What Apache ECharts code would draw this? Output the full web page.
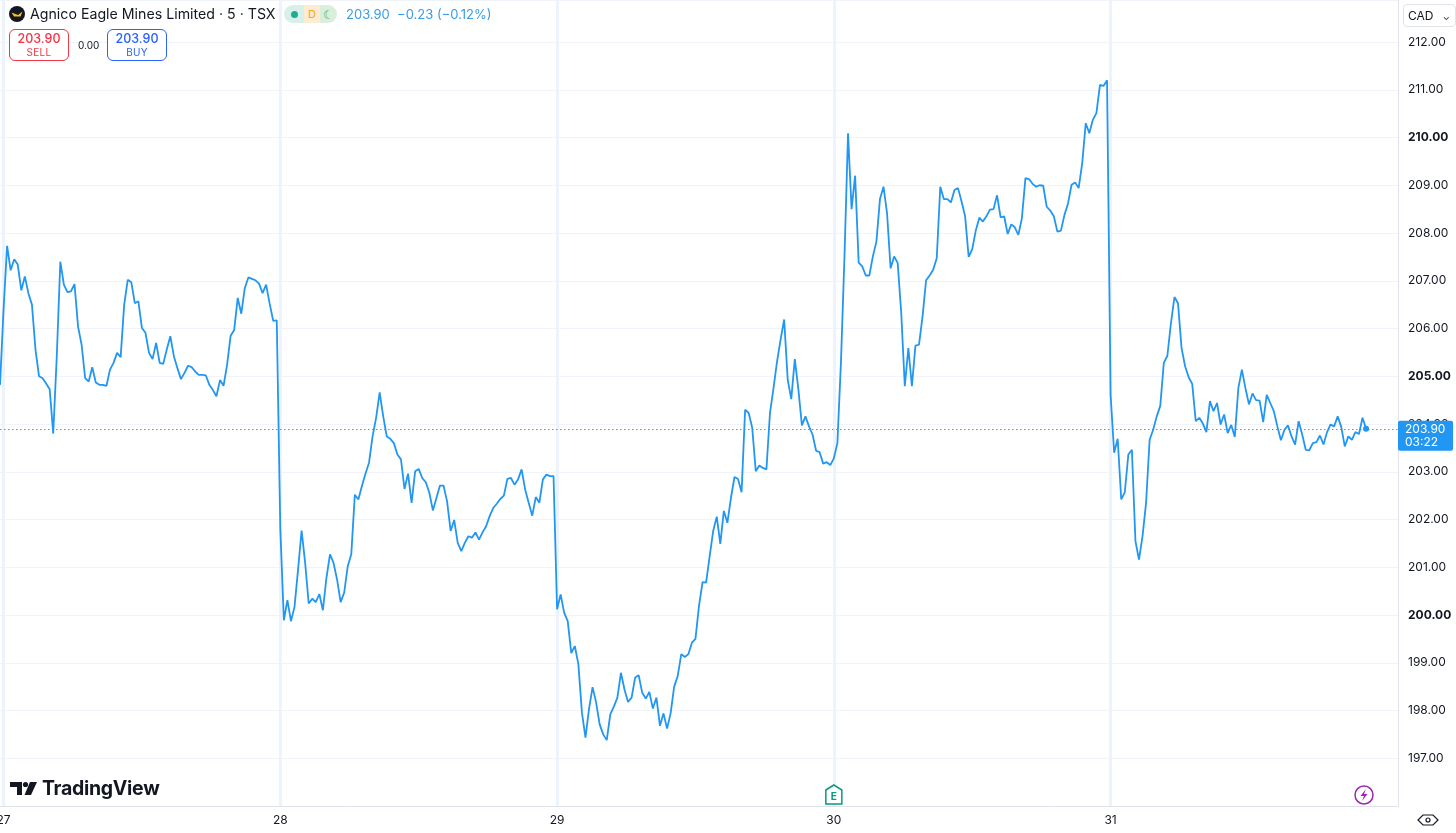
<!DOCTYPE html>
<html>
<head>
<meta charset="utf-8">
<script src="https://cdn.jsdelivr.net/npm/echarts@6/dist/echarts.min.js"></script>
<style>
  html, body { margin: 0; padding: 0; background: #fff; }
  body { width: 1456px; height: 833px; position: relative; overflow: hidden;
         font-family: Inter, Roboto, "Noto Sans", sans-serif; color: #131722; }
  #chart { position: absolute; left: 0; top: 0; width: 1456px; height: 833px; }
  .ov { position: absolute; z-index: 5; }
  .title { left: 30px; top: 4px; font-size: 14.2px; line-height: 20px; white-space: nowrap; }
  .pill { left: 284px; top: 5px; height: 18px; display: flex; border-radius: 9px; overflow: hidden; }
  .pill span { display: flex; align-items: center; justify-content: center; height: 18px; font-size: 11px; }
  .quote { left: 346px; top: 6px; font-size: 13px; line-height: 16px; color: #3a9be6; white-space: nowrap; }
  .btn { top: 29px; width: 58px; height: 30px; border-radius: 6px; text-align: center; background: #fff; }
  .btn .p { font-size: 12.5px; line-height: 14px; margin-top: 2px; font-weight: 500; }
  .btn .l { font-size: 10px; line-height: 12px; letter-spacing: 0.3px; }
  .spread { left: 78px; top: 39px; font-size: 10px; }
  .cad { left: 1403px; top: 4px; width: 47px; height: 21px; border: 1px solid #e0e3eb; border-radius: 4px;
         font-size: 12px; line-height: 21px; padding-left: 4px; box-sizing: content-box; }
  .logo { left: 10px; top: 776px; display: flex; align-items: center; }
  .logo b { font-size: 19.5px; font-weight: 700; letter-spacing: -0.3px; margin-left: 4px; }
</style>
</head>
<body>
<div id="chart"></div>

<div class="ov" style="left:9px;top:6px;width:16px;height:16px;border-radius:8px;background:#131722;">
  <svg width="16" height="16" viewBox="0 0 16 16"><path d="M2.5 6.5 L9 9 L13.5 5.5 L11.5 10.5 L5 10.5 Z" fill="#f5c518"/></svg>
</div>
<div class="ov title">Agnico Eagle Mines Limited · 5 · TSX</div>
<div class="ov pill">
  <span style="width:20px;background:#d7f0ea;"><i style="width:7px;height:7px;border-radius:4px;background:#22ab94;display:block"></i></span>
  <span style="width:16px;background:#fdecd2;color:#f5a524;">D</span>
  <span style="width:17px;background:#d9efdc;color:#3fae5a;font-size:12px;">&#9790;</span>
</div>
<div class="ov quote">203.90&nbsp; −0.23 (−0.12%)</div>
<div class="ov btn" style="left:9px;border:1px solid #f23645;color:#f23645;">
  <div class="p">203.90</div><div class="l">SELL</div>
</div>
<div class="ov spread">0.00</div>
<div class="ov btn" style="left:107px;border:1px solid #2962ff;color:#2962ff;">
  <div class="p">203.90</div><div class="l">BUY</div>
</div>
<div class="ov cad">CAD <span style="font-size:9px;margin-left:6px;">&#8964;</span></div>
<div class="ov logo">
  <svg width="28" height="16" viewBox="0 0 28 16">
    <path d="M0 2 H12 V15 H7 V7 H0 Z" fill="#131722"/>
    <circle cx="15.5" cy="4.5" r="2.6" fill="#131722"/>
    <path d="M20 2 H27 L21 15 H14.5 Z" fill="#131722"/>
  </svg>
  <b>TradingView</b>
</div>

<script>
// ---- data (5-minute closes, TSX session 09:30-16:00) ----
const months = ['Oct', 'Oct', 'Oct', 'Oct', 'Oct'];
const days = ['27', '28', '29', '30', '31'];
const priorBar = ['Oct 24 15:55'];
const futureBars = ['Nov 3 09:30', 'Nov 3 09:35', 'Nov 3 09:40', 'Nov 3 09:45'];
const priorClose = [204.82];

const day27 = [206.40, 207.73, 207.22, 207.45, 207.34, 206.80, 207.09, 206.74, 206.50, 205.56, 205.00,
  204.96, 204.85, 204.73, 203.80, 205.42, 207.40, 206.92, 206.76, 206.78, 206.93,
  206.04, 205.66, 204.96, 204.89, 205.19, 204.87, 204.82, 204.82, 204.80, 205.14,
  205.28, 205.49, 205.40, 206.50, 207.02, 206.97, 206.53, 206.57, 206.01, 205.91,
  205.49, 205.36, 205.70, 205.28, 205.26, 205.56, 205.84, 205.42, 205.17, 204.94,
  205.07, 205.22, 205.19, 205.10, 205.03, 205.03, 205.02, 204.82, 204.71, 204.58,
  204.92, 204.80, 205.24, 205.85, 205.97, 206.64, 206.31, 206.85, 207.07, 207.04,
  207.01, 206.94, 206.74, 206.92, 206.52, 206.16, 206.17];

const day28 = [201.80, 199.89, 200.31, 199.87, 200.17, 200.95, 201.77, 201.09, 200.24, 200.34,
  200.27, 200.44, 200.10, 200.78, 201.27, 201.09, 200.74, 200.27, 200.47, 201.02,
  201.27, 202.52, 202.42, 202.70, 202.96, 203.19, 203.74, 204.13, 204.66, 204.16,
  203.74, 203.69, 203.60, 203.36, 203.26, 202.64, 202.96, 202.35, 203.01, 203.06,
  202.87, 202.78, 202.56, 202.19, 202.45, 202.71, 202.71, 202.38, 201.76, 201.99,
  201.51, 201.34, 201.51, 201.65, 201.62, 201.73, 201.58, 201.73, 201.86, 202.07,
  202.24, 202.33, 202.43, 202.50, 202.85, 202.87, 202.73, 202.84, 203.05, 202.63,
  202.35, 202.08, 202.47, 202.35, 202.84, 202.94, 202.91, 202.91];

const day29 = [200.12, 200.43, 200.05, 199.87, 199.20, 199.35, 198.97, 197.96, 197.43, 198.03,
  198.49, 198.17, 197.71, 197.50, 197.38, 197.92, 198.08, 198.27, 198.79, 198.44,
  198.18, 198.27, 198.69, 198.74, 198.37, 198.25, 198.39, 198.04, 198.27, 197.68,
  197.94, 197.62, 197.94, 198.50, 198.72, 199.18, 199.12, 199.18, 199.42, 199.50,
  200.19, 200.69, 200.68, 201.23, 201.76, 202.06, 201.49, 202.18, 201.93, 202.45,
  202.89, 202.85, 202.57, 204.30, 204.23, 203.92, 203.01, 203.13, 203.08, 203.05,
  204.23, 204.75, 205.31, 205.77, 206.19, 204.93, 204.52, 205.36, 204.73, 203.97,
  204.16, 203.95, 203.78, 203.44, 203.41, 203.17, 203.20, 203.14];

const day30 = [203.28, 203.60, 205.28, 207.51, 210.09, 208.50, 209.20, 207.38, 207.30, 207.11,
  207.11, 207.51, 207.82, 208.71, 208.97, 208.41, 207.26, 207.51, 207.37, 206.32,
  204.79, 205.59, 204.79, 205.64, 205.66, 206.25, 207.01, 207.11, 207.23, 207.47,
  208.97, 208.71, 208.71, 208.64, 208.90, 208.94, 208.66, 208.35, 207.50, 207.66,
  208.05, 208.32, 208.24, 208.35, 208.49, 208.50, 208.79, 208.33, 208.35, 207.98,
  208.18, 208.12, 207.96, 208.31, 209.15, 209.13, 209.03, 208.97, 209.00, 208.99,
  208.55, 208.47, 208.35, 208.03, 208.05, 208.38, 208.62, 209.01, 209.06, 208.94,
  209.46, 210.30, 210.09, 210.37, 210.51, 211.10, 211.08, 211.20];

const day31 = [204.61, 203.40, 203.69, 202.42, 202.57, 203.36, 203.46, 201.55, 201.16, 201.65,
  202.35, 203.67, 203.88, 204.16, 204.38, 205.28, 205.43, 206.11, 206.66, 206.53,
  205.59, 205.21, 204.98, 204.84, 204.06, 204.13, 204.01, 203.83, 204.48, 204.27,
  204.44, 203.99, 204.20, 203.81, 203.98, 203.73, 204.75, 205.14, 204.75, 204.41,
  204.64, 204.50, 204.49, 204.04, 204.61, 204.44, 204.27, 203.95, 203.66, 203.88,
  203.97, 203.74, 203.57, 204.06, 203.78, 203.46, 203.45, 203.60, 203.62, 203.76,
  203.57, 203.83, 203.99, 203.95, 204.16, 203.94, 203.53, 203.74, 203.67, 203.83,
  203.79, 204.13, 203.90];

const lastPrice = 203.90;
const barCountdown = '03:22';

// ---- build categories: one per 5-minute bar ----
const sessionTimes = [];
for (let m = 9 * 60 + 30; m < 16 * 60; m += 5) {
  sessionTimes.push(String(Math.floor(m / 60)).padStart(2, '0') + ':' + String(m % 60).padStart(2, '0'));
}
const categories = priorBar.slice();
days.forEach((d, i) => sessionTimes.forEach(t => categories.push(months[i] + ' ' + d + ' ' + t)));
futureBars.forEach(b => categories.push(b));

const closes = priorClose.concat(day27, day28, day29, day30, day31);
const lastIdx = closes.length - 1;
const isDayStart = (v) => v.endsWith('09:30') && days.includes(v.split(' ')[1]) && v.startsWith('Oct');
const earningsDay = 'Oct 30 09:30';

const blue = '#2196f3';
const chart = echarts.init(document.getElementById('chart'));

chart.setOption({
  animation: false,
  backgroundColor: '#ffffff',
  grid: { left: 0, right: 58, top: 0, bottom: 27, outerBoundsMode: 'none', containLabel: false },
  xAxis: {
    type: 'category',
    data: categories,
    boundaryGap: false,
    axisLine: { lineStyle: { color: '#e0e3eb' } },
    axisTick: { show: false },
    axisLabel: {
      interval: (i, v) => isDayStart(v),
      formatter: (v) => v.split(' ')[1],
      color: '#131722', fontSize: 12, margin: 8,
      fontFamily: 'Inter, Roboto, sans-serif'
    },
    splitLine: {
      show: true,
      interval: (i, v) => isDayStart(v),
      lineStyle: { color: '#edf3fc', width: 3 }
    }
  },
  yAxis: {
    type: 'value',
    position: 'right',
    min: 196, max: 212.88, interval: 1,
    axisLine: { show: true, lineStyle: { color: '#e0e3eb' } },
    axisTick: { show: false },
    axisLabel: {
      showMinLabel: false, showMaxLabel: false,
      margin: 10, color: '#131722', fontSize: 12,
      fontFamily: 'Inter, Roboto, sans-serif',
      formatter: (v) => (v % 5 === 0 ? '{b|' + v.toFixed(2) + '}' : v.toFixed(2)),
      rich: { b: { fontWeight: 'bold', fontSize: 12, color: '#131722', fontFamily: 'Inter, Roboto, sans-serif' } }
    },
    splitLine: { lineStyle: { color: '#f0f3fa' } }
  },
  series: [{
    type: 'line',
    data: closes,
    showSymbol: false,
    lineStyle: { color: blue, width: 1.8 },
    itemStyle: { color: blue },
    markLine: {
      silent: true, symbol: 'none',
      label: { show: false },
      lineStyle: { color: blue, type: [1.5, 2.5], width: 1, opacity: 0.9 },
      data: [{ yAxis: lastPrice }]
    },
    markPoint: {
      symbol: 'circle', symbolSize: 6, silent: true,
      label: { show: false },
      itemStyle: { color: blue },
      data: [{ coord: [lastIdx, lastPrice] }]
    }
  }]
});

// price tag, earnings flag and icons placed through the chart's own scales
const py = chart.convertToPixel({ yAxisIndex: 0 }, lastPrice);
const ex = chart.convertToPixel({ xAxisIndex: 0 }, earningsDay);
const axisX = chart.convertToPixel({ xAxisIndex: 0 }, categories[categories.length - 1]);

chart.setOption({
  graphic: [
    { type: 'rect', z: 100, shape: { x: axisX, y: py - 8, width: 55, height: 30, r: 2 }, style: { fill: blue } },
    { type: 'text', z: 101, x: axisX + 7, y: py + 0.5, style: { text: lastPrice.toFixed(2), fill: '#fff', fontSize: 12, fontFamily: 'Inter, Roboto, sans-serif', verticalAlign: 'middle' } },
    { type: 'text', z: 101, x: axisX + 7, y: py + 14, style: { text: barCountdown, fill: '#fff', fontSize: 12, fontFamily: 'Inter, Roboto, sans-serif', verticalAlign: 'middle' } },
    { type: 'polygon', z: 100, shape: { points: [[ex - 8, 790], [ex, 785], [ex + 8, 790], [ex + 8, 804], [ex - 8, 804]] },
      style: { fill: '#fff', stroke: '#089981', lineWidth: 1.5 } },
    { type: 'text', z: 101, x: ex, y: 797, style: { text: 'E', fill: '#089981', fontSize: 10, fontWeight: 'bold', align: 'center', verticalAlign: 'middle', fontFamily: 'Inter, Roboto, sans-serif' } },
    { type: 'circle', z: 100, shape: { cx: 1364, cy: 795, r: 9 }, style: { fill: '#fff', stroke: '#9c27b0', lineWidth: 1.5 } },
    { type: 'polygon', z: 101, shape: { points: [[1366, 789], [1360.5, 796], [1364, 796], [1362, 801], [1367.5, 794], [1364, 794]] },
      style: { fill: '#9c27b0' } },
    { type: 'polygon', z: 100, shape: { points: [[1423, 815], [1433, 815], [1438, 820], [1433, 825], [1423, 825], [1418, 820]] },
      style: { fill: 'none', stroke: '#131722', lineWidth: 1.2 } },
    { type: 'circle', z: 100, shape: { cx: 1428, cy: 820, r: 2 }, style: { fill: 'none', stroke: '#131722', lineWidth: 1.2 } }
  ]
});
</script>
</body>
</html>
